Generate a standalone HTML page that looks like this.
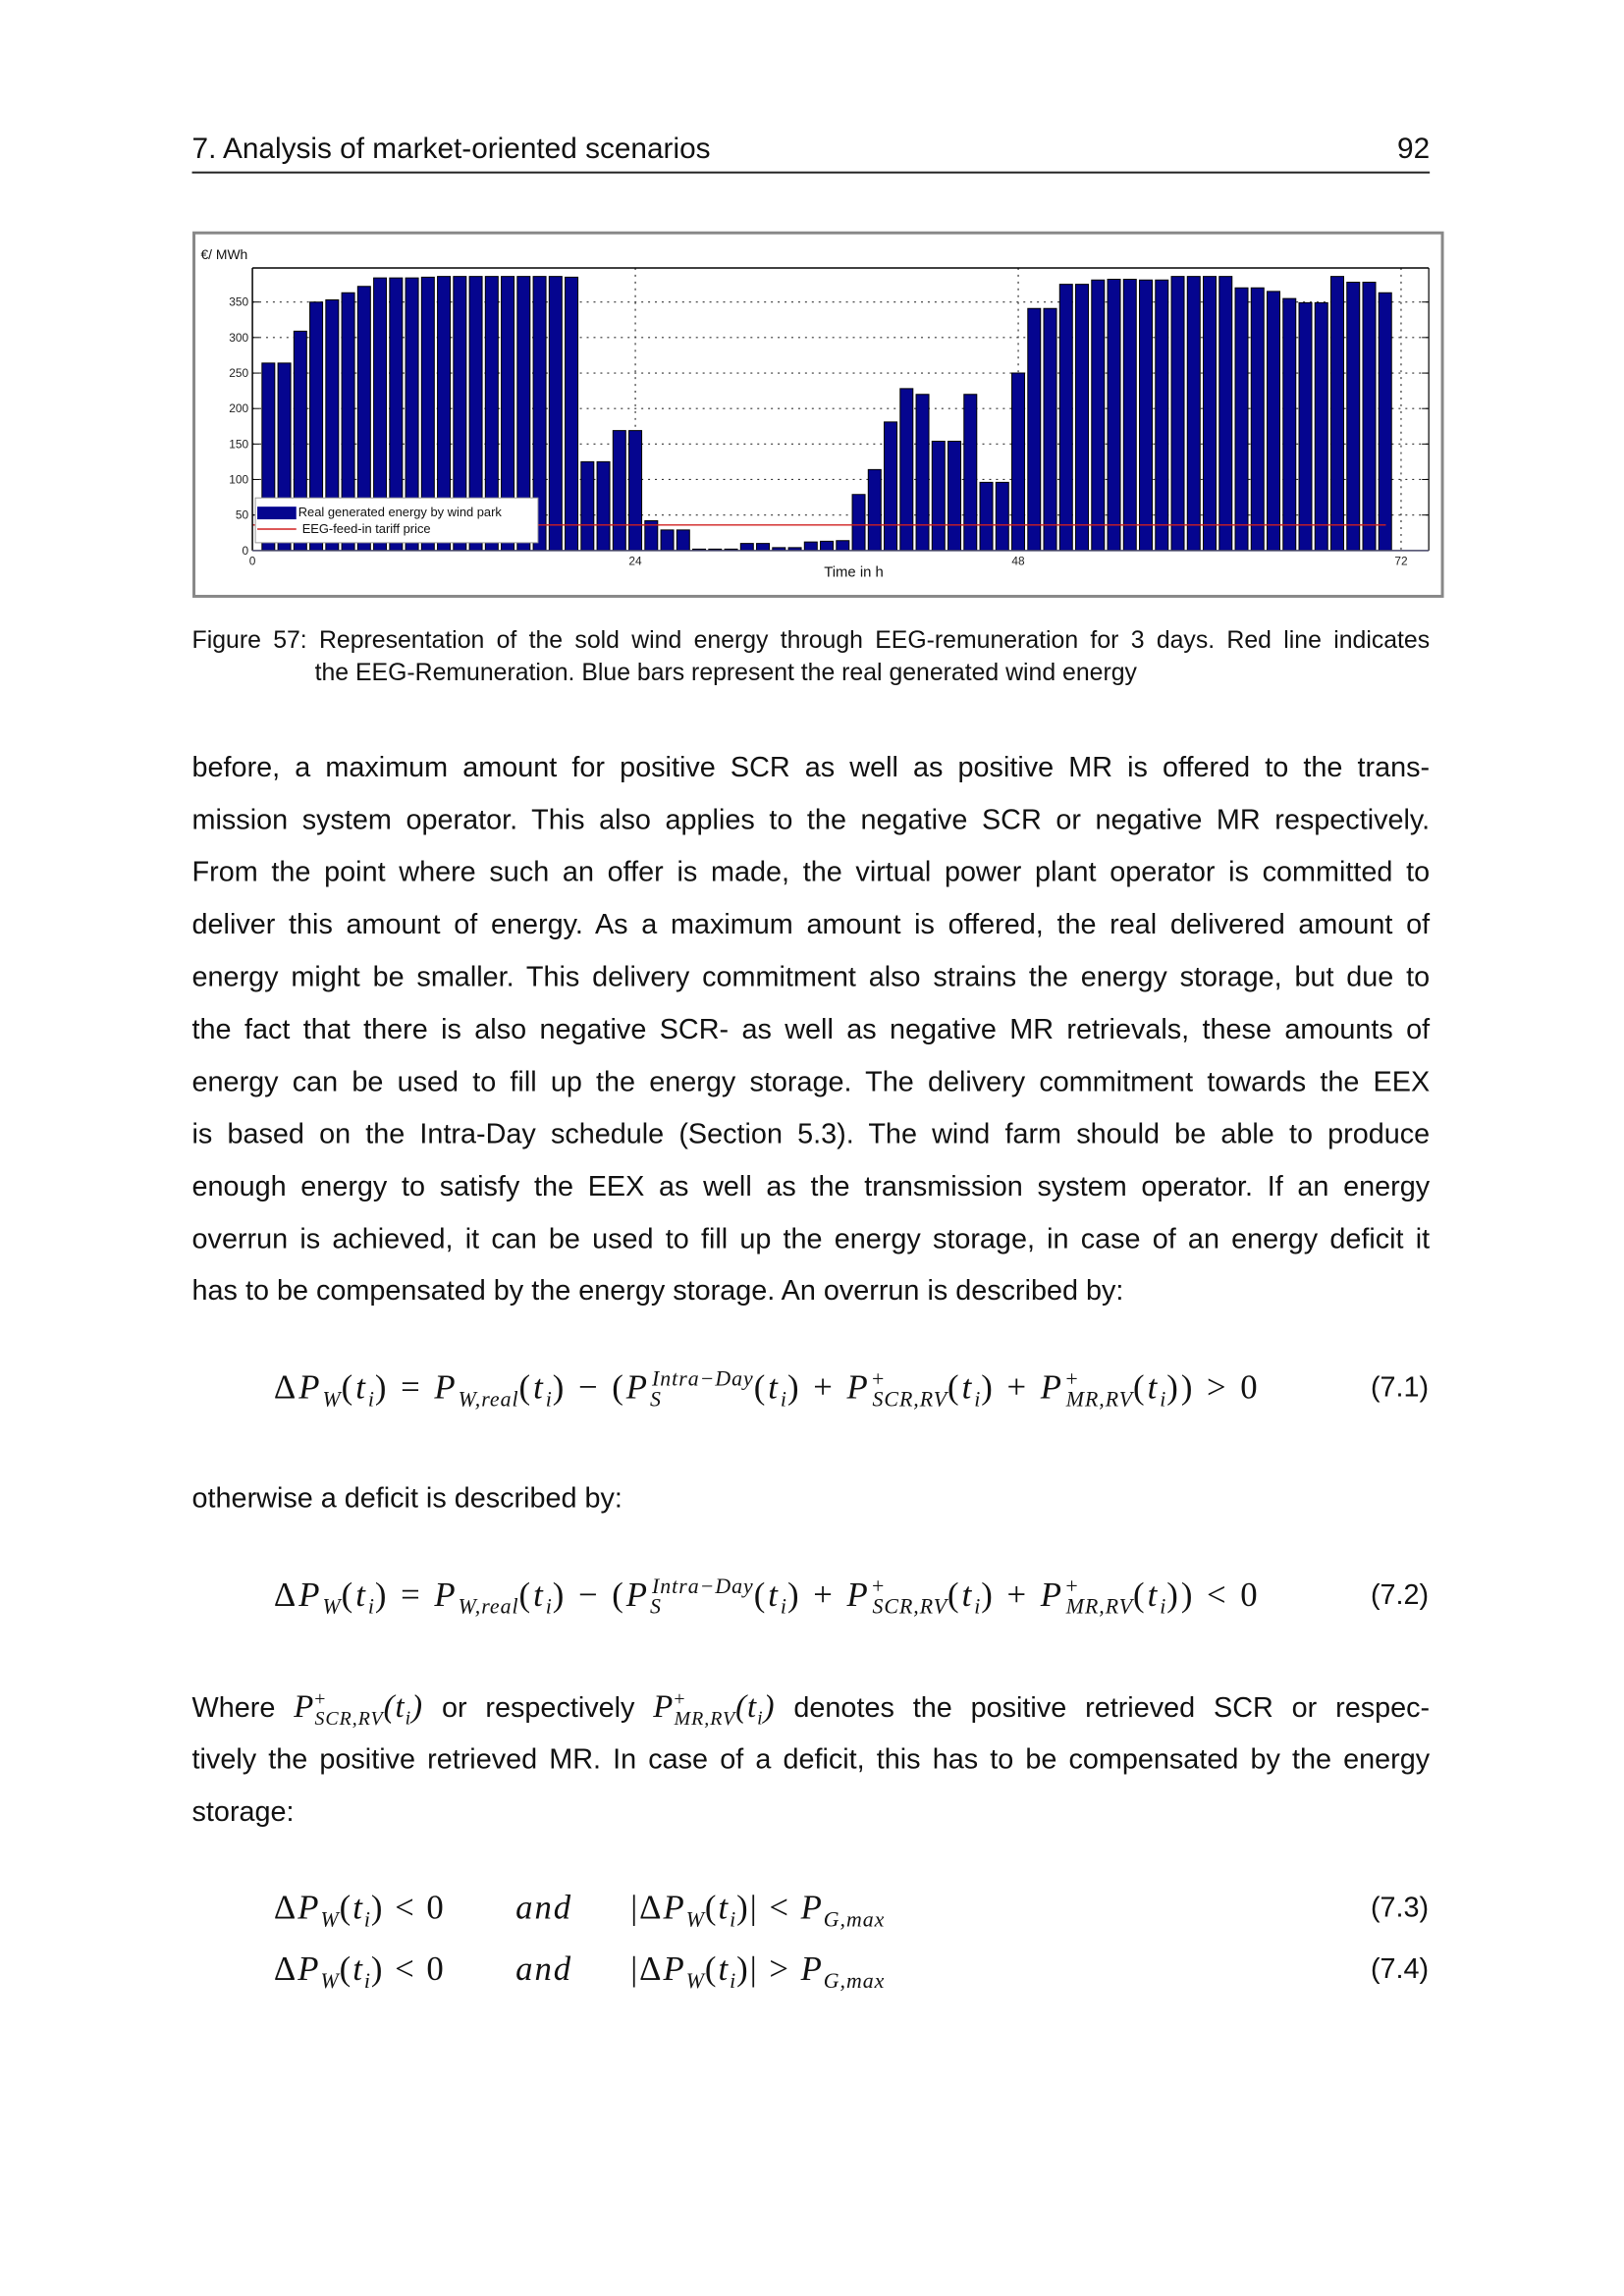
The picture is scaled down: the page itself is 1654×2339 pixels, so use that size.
<!DOCTYPE html>
<html><head><meta charset="utf-8">
<style>
html,body{margin:0;padding:0;background:#fff;}
body{width:1654px;height:2339px;position:relative;overflow:hidden;font-family:"Liberation Sans",sans-serif;color:#111;}
#w{position:absolute;left:0;top:0;width:1654px;height:2339px;transform:scale(0.9926);transform-origin:0 0;}
.l{position:absolute;left:197px;width:1270px;height:40px;line-height:40px;font-size:29px;white-space:nowrap;text-align:justify;text-align-last:justify;}
.nj{text-align:left;text-align-last:left;}
.c{font-size:25px;}
.m{position:absolute;height:44px;line-height:44px;font-family:"Liberation Serif",serif;font-size:35px;letter-spacing:2px;white-space:nowrap;}
.m.e{letter-spacing:3px;}
.m i{font-style:italic;}
.m sub,.m sup{font-size:22px;font-style:italic;line-height:0;letter-spacing:1px;}
.n{position:absolute;right:188px;height:44px;line-height:44px;font-size:29px;}
.wm{font-family:'Liberation Serif',serif;font-style:italic;font-size:33px;letter-spacing:1px;}
.wm sup,.wm sub{font-size:20px;line-height:0;}
</style></head><body><div id="w">
<div style="position:absolute;left:197px;top:133px;font-size:30px;line-height:40px;">7. Analysis of market-oriented scenarios</div>
<div style="position:absolute;right:187px;top:133px;font-size:30px;line-height:40px;">92</div>
<div style="position:absolute;left:197px;top:176px;width:1270px;height:2px;background:#222;"></div>

<svg style="position:absolute;left:0;top:0" width="1654" height="700" xmlns="http://www.w3.org/2000/svg">
<rect x="199" y="239" width="1281" height="373" fill="#fff" stroke="#888" stroke-width="3"/>
<g stroke="#333" stroke-width="1.2" stroke-dasharray="2,5">
<line x1="259" x2="1466" y1="528.6" y2="528.6"/><line x1="259" x2="1466" y1="492.1" y2="492.1"/>
<line x1="259" x2="1466" y1="455.7" y2="455.7"/><line x1="259" x2="1466" y1="419.3" y2="419.3"/>
<line x1="259" x2="1466" y1="382.9" y2="382.9"/><line x1="259" x2="1466" y1="346.4" y2="346.4"/>
<line x1="259" x2="1466" y1="310" y2="310"/>
<line x1="651.9" x2="651.9" y1="275" y2="565"/><line x1="1044.8" x2="1044.8" y1="275" y2="565"/><line x1="1437.6" x2="1437.6" y1="275" y2="565"/>
</g>
<g transform="translate(259,565) scale(16.37,-0.7286)" fill="#05058f" stroke="#000" stroke-width="1">
<rect vector-effect="non-scaling-stroke" x="0.6" width="0.8" y="0" height="264"/>
<rect vector-effect="non-scaling-stroke" x="1.6" width="0.8" y="0" height="264"/>
<rect vector-effect="non-scaling-stroke" x="2.6" width="0.8" y="0" height="309"/>
<rect vector-effect="non-scaling-stroke" x="3.6" width="0.8" y="0" height="350"/>
<rect vector-effect="non-scaling-stroke" x="4.6" width="0.8" y="0" height="353"/>
<rect vector-effect="non-scaling-stroke" x="5.6" width="0.8" y="0" height="363"/>
<rect vector-effect="non-scaling-stroke" x="6.6" width="0.8" y="0" height="372"/>
<rect vector-effect="non-scaling-stroke" x="7.6" width="0.8" y="0" height="384"/>
<rect vector-effect="non-scaling-stroke" x="8.6" width="0.8" y="0" height="384"/>
<rect vector-effect="non-scaling-stroke" x="9.6" width="0.8" y="0" height="384"/>
<rect vector-effect="non-scaling-stroke" x="10.6" width="0.8" y="0" height="385"/>
<rect vector-effect="non-scaling-stroke" x="11.6" width="0.8" y="0" height="386"/>
<rect vector-effect="non-scaling-stroke" x="12.6" width="0.8" y="0" height="386"/>
<rect vector-effect="non-scaling-stroke" x="13.6" width="0.8" y="0" height="386"/>
<rect vector-effect="non-scaling-stroke" x="14.6" width="0.8" y="0" height="386"/>
<rect vector-effect="non-scaling-stroke" x="15.6" width="0.8" y="0" height="386"/>
<rect vector-effect="non-scaling-stroke" x="16.6" width="0.8" y="0" height="386"/>
<rect vector-effect="non-scaling-stroke" x="17.6" width="0.8" y="0" height="386"/>
<rect vector-effect="non-scaling-stroke" x="18.6" width="0.8" y="0" height="386"/>
<rect vector-effect="non-scaling-stroke" x="19.6" width="0.8" y="0" height="385"/>
<rect vector-effect="non-scaling-stroke" x="20.6" width="0.8" y="0" height="125"/>
<rect vector-effect="non-scaling-stroke" x="21.6" width="0.8" y="0" height="125"/>
<rect vector-effect="non-scaling-stroke" x="22.6" width="0.8" y="0" height="169"/>
<rect vector-effect="non-scaling-stroke" x="23.6" width="0.8" y="0" height="169"/>
<rect vector-effect="non-scaling-stroke" x="24.6" width="0.8" y="0" height="42"/>
<rect vector-effect="non-scaling-stroke" x="25.6" width="0.8" y="0" height="29"/>
<rect vector-effect="non-scaling-stroke" x="26.6" width="0.8" y="0" height="29"/>
<rect vector-effect="non-scaling-stroke" x="27.6" width="0.8" y="0" height="2"/>
<rect vector-effect="non-scaling-stroke" x="28.6" width="0.8" y="0" height="2"/>
<rect vector-effect="non-scaling-stroke" x="29.6" width="0.8" y="0" height="2"/>
<rect vector-effect="non-scaling-stroke" x="30.6" width="0.8" y="0" height="10"/>
<rect vector-effect="non-scaling-stroke" x="31.6" width="0.8" y="0" height="10"/>
<rect vector-effect="non-scaling-stroke" x="32.6" width="0.8" y="0" height="4"/>
<rect vector-effect="non-scaling-stroke" x="33.6" width="0.8" y="0" height="4"/>
<rect vector-effect="non-scaling-stroke" x="34.6" width="0.8" y="0" height="12"/>
<rect vector-effect="non-scaling-stroke" x="35.6" width="0.8" y="0" height="13"/>
<rect vector-effect="non-scaling-stroke" x="36.6" width="0.8" y="0" height="14"/>
<rect vector-effect="non-scaling-stroke" x="37.6" width="0.8" y="0" height="79"/>
<rect vector-effect="non-scaling-stroke" x="38.6" width="0.8" y="0" height="114"/>
<rect vector-effect="non-scaling-stroke" x="39.6" width="0.8" y="0" height="181"/>
<rect vector-effect="non-scaling-stroke" x="40.6" width="0.8" y="0" height="228"/>
<rect vector-effect="non-scaling-stroke" x="41.6" width="0.8" y="0" height="220"/>
<rect vector-effect="non-scaling-stroke" x="42.6" width="0.8" y="0" height="154"/>
<rect vector-effect="non-scaling-stroke" x="43.6" width="0.8" y="0" height="154"/>
<rect vector-effect="non-scaling-stroke" x="44.6" width="0.8" y="0" height="220"/>
<rect vector-effect="non-scaling-stroke" x="45.6" width="0.8" y="0" height="96"/>
<rect vector-effect="non-scaling-stroke" x="46.6" width="0.8" y="0" height="96"/>
<rect vector-effect="non-scaling-stroke" x="47.6" width="0.8" y="0" height="250"/>
<rect vector-effect="non-scaling-stroke" x="48.6" width="0.8" y="0" height="341"/>
<rect vector-effect="non-scaling-stroke" x="49.6" width="0.8" y="0" height="341"/>
<rect vector-effect="non-scaling-stroke" x="50.6" width="0.8" y="0" height="375"/>
<rect vector-effect="non-scaling-stroke" x="51.6" width="0.8" y="0" height="375"/>
<rect vector-effect="non-scaling-stroke" x="52.6" width="0.8" y="0" height="381"/>
<rect vector-effect="non-scaling-stroke" x="53.6" width="0.8" y="0" height="382"/>
<rect vector-effect="non-scaling-stroke" x="54.6" width="0.8" y="0" height="382"/>
<rect vector-effect="non-scaling-stroke" x="55.6" width="0.8" y="0" height="381"/>
<rect vector-effect="non-scaling-stroke" x="56.6" width="0.8" y="0" height="381"/>
<rect vector-effect="non-scaling-stroke" x="57.6" width="0.8" y="0" height="386"/>
<rect vector-effect="non-scaling-stroke" x="58.6" width="0.8" y="0" height="386"/>
<rect vector-effect="non-scaling-stroke" x="59.6" width="0.8" y="0" height="386"/>
<rect vector-effect="non-scaling-stroke" x="60.6" width="0.8" y="0" height="386"/>
<rect vector-effect="non-scaling-stroke" x="61.6" width="0.8" y="0" height="370"/>
<rect vector-effect="non-scaling-stroke" x="62.6" width="0.8" y="0" height="370"/>
<rect vector-effect="non-scaling-stroke" x="63.6" width="0.8" y="0" height="365"/>
<rect vector-effect="non-scaling-stroke" x="64.6" width="0.8" y="0" height="355"/>
<rect vector-effect="non-scaling-stroke" x="65.6" width="0.8" y="0" height="349"/>
<rect vector-effect="non-scaling-stroke" x="66.6" width="0.8" y="0" height="349"/>
<rect vector-effect="non-scaling-stroke" x="67.6" width="0.8" y="0" height="386"/>
<rect vector-effect="non-scaling-stroke" x="68.6" width="0.8" y="0" height="378"/>
<rect vector-effect="non-scaling-stroke" x="69.6" width="0.8" y="0" height="378"/>
<rect vector-effect="non-scaling-stroke" x="70.6" width="0.8" y="0" height="363"/>
</g>
<line x1="259" x2="1422" y1="538.8" y2="538.8" stroke="#d02020" stroke-width="1.5"/>
<line x1="259" x2="1466" y1="275" y2="275" stroke="#000" stroke-width="1.5"/>
<line x1="259" x2="259" y1="275" y2="565" stroke="#000" stroke-width="1.5"/>
<line x1="1466" x2="1466" y1="275" y2="565" stroke="#000" stroke-width="1.2"/>
<line x1="259" x2="1466" y1="565" y2="565" stroke="#446" stroke-width="1.5"/>
<g stroke="#000" stroke-width="1">
<line x1="259" x2="266" y1="528.6" y2="528.6"/><line x1="259" x2="266" y1="492.1" y2="492.1"/><line x1="259" x2="266" y1="455.7" y2="455.7"/><line x1="259" x2="266" y1="419.3" y2="419.3"/><line x1="259" x2="266" y1="382.9" y2="382.9"/><line x1="259" x2="266" y1="346.4" y2="346.4"/><line x1="259" x2="266" y1="310" y2="310"/>
<line x1="1459" x2="1466" y1="528.6" y2="528.6"/><line x1="1459" x2="1466" y1="492.1" y2="492.1"/><line x1="1459" x2="1466" y1="455.7" y2="455.7"/><line x1="1459" x2="1466" y1="419.3" y2="419.3"/><line x1="1459" x2="1466" y1="382.9" y2="382.9"/><line x1="1459" x2="1466" y1="346.4" y2="346.4"/><line x1="1459" x2="1466" y1="310" y2="310"/>
</g>
<g font-family="Liberation Sans, sans-serif" font-size="12" fill="#222" text-anchor="end">
<text x="255" y="569">0</text><text x="255" y="532.6">50</text><text x="255" y="496">100</text><text x="255" y="459.7">150</text><text x="255" y="423.3">200</text><text x="255" y="386.9">250</text><text x="255" y="350.4">300</text><text x="255" y="314">350</text>
</g>
<g font-family="Liberation Sans, sans-serif" font-size="12" fill="#222" text-anchor="middle">
<text x="259" y="580">0</text><text x="651.9" y="580">24</text><text x="1044.8" y="580">48</text><text x="1437.6" y="580">72</text>
</g>
<text x="206" y="266" font-family="Liberation Sans, sans-serif" font-size="14" fill="#111">€/ MWh</text>
<text x="876" y="592" font-family="Liberation Sans, sans-serif" font-size="15" fill="#111" text-anchor="middle">Time in h</text>
<rect x="262" y="511" width="290" height="46" fill="#fff" stroke="#999" stroke-width="1"/>
<rect x="264" y="520" width="40" height="13" fill="#05058f"/>
<line x1="264" x2="304" y1="543" y2="543" stroke="#d02020" stroke-width="1.5"/>
<g font-family="Liberation Sans, sans-serif" font-size="13" fill="#111">
<text x="306" y="530">Real generated energy by wind park</text>
<text x="310" y="547">EEG-feed-in tariff price</text>
</g>
</svg>

<div class="l c" style="top:637px;">Figure 57: Representation of the sold wind energy through EEG-remuneration for 3 days. Red line indicates</div>
<div class="l c nj" style="top:670px;left:323px;width:auto;">the EEG-Remuneration. Blue bars represent the real generated wind energy</div>

<div class="l" style="top:768px;">before, a maximum amount for positive SCR as well as positive MR is offered to the trans-</div>
<div class="l" style="top:822px;">mission system operator. This also applies to the negative SCR or negative MR respectively.</div>
<div class="l" style="top:875px;">From the point where such an offer is made, the virtual power plant operator is committed to</div>
<div class="l" style="top:929px;">deliver this amount of energy. As a maximum amount is offered, the real delivered amount of</div>
<div class="l" style="top:983px;">energy might be smaller. This delivery commitment also strains the energy storage, but due to</div>
<div class="l" style="top:1037px;">the fact that there is also negative SCR- as well as negative MR retrievals, these amounts of</div>
<div class="l" style="top:1091px;">energy can be used to fill up the energy storage. The delivery commitment towards the EEX</div>
<div class="l" style="top:1144px;">is based on the Intra-Day schedule (Section 5.3). The wind farm should be able to produce</div>
<div class="l" style="top:1198px;">enough energy to satisfy the EEX as well as the transmission system operator. If an energy</div>
<div class="l" style="top:1252px;">overrun is achieved, it can be used to fill up the energy storage, in case of an energy deficit it</div>
<div class="l nj" style="top:1305px;">has to be compensated by the energy storage. An overrun is described by:</div>

<div class="m e" style="left:281px;top:1402px;">Δ<i>P</i><sub>W</sub>(<i>t</i><sub>i</sub>) = <i>P</i><sub>W,real</sub>(<i>t</i><sub>i</sub>) − (<i>P</i><sub>S</sub><sup style="margin-left:-10px">Intra−Day</sup>(<i>t</i><sub>i</sub>) + <i>P</i><sup>+</sup><sub style="margin-left:-14px">SCR,RV</sub>(<i>t</i><sub>i</sub>) + <i>P</i><sup>+</sup><sub style="margin-left:-14px">MR,RV</sub>(<i>t</i><sub>i</sub>)) &gt; 0</div>
<div class="n" style="top:1402px;">(7.1)</div>
<div class="l nj" style="top:1518px;">otherwise a deficit is described by:</div>
<div class="m e" style="left:281px;top:1615px;">Δ<i>P</i><sub>W</sub>(<i>t</i><sub>i</sub>) = <i>P</i><sub>W,real</sub>(<i>t</i><sub>i</sub>) − (<i>P</i><sub>S</sub><sup style="margin-left:-10px">Intra−Day</sup>(<i>t</i><sub>i</sub>) + <i>P</i><sup>+</sup><sub style="margin-left:-14px">SCR,RV</sub>(<i>t</i><sub>i</sub>) + <i>P</i><sup>+</sup><sub style="margin-left:-14px">MR,RV</sub>(<i>t</i><sub>i</sub>)) &lt; 0</div>
<div class="n" style="top:1615px;">(7.2)</div>

<div class="l" style="top:1732px;">Where <span class="wm">P<sup style="font-style:normal">+</sup><sub style="margin-left:-12px">SCR,RV</sub>(t<sub>i</sub>)</span> or respectively <span class="wm">P<sup style="font-style:normal">+</sup><sub style="margin-left:-12px">MR,RV</sub>(t<sub>i</sub>)</span> denotes the positive retrieved SCR or respec-</div>
<div class="l" style="top:1786px;">tively the positive retrieved MR. In case of a deficit, this has to be compensated by the energy</div>
<div class="l nj" style="top:1840px;">storage:</div>

<div class="m" style="left:281px;top:1936px;">Δ<i>P</i><sub>W</sub>(<i>t</i><sub>i</sub>) &lt; 0</div>
<div class="m" style="left:529px;top:1936px;"><i>and</i></div>
<div class="m" style="left:647px;top:1936px;">|Δ<i>P</i><sub>W</sub>(<i>t</i><sub>i</sub>)| &lt; <i>P</i><sub>G,max</sub></div>
<div class="n" style="top:1936px;">(7.3)</div>
<div class="m" style="left:281px;top:1999px;">Δ<i>P</i><sub>W</sub>(<i>t</i><sub>i</sub>) &lt; 0</div>
<div class="m" style="left:529px;top:1999px;"><i>and</i></div>
<div class="m" style="left:647px;top:1999px;">|Δ<i>P</i><sub>W</sub>(<i>t</i><sub>i</sub>)| &gt; <i>P</i><sub>G,max</sub></div>
<div class="n" style="top:1999px;">(7.4)</div>
</div></body></html>
